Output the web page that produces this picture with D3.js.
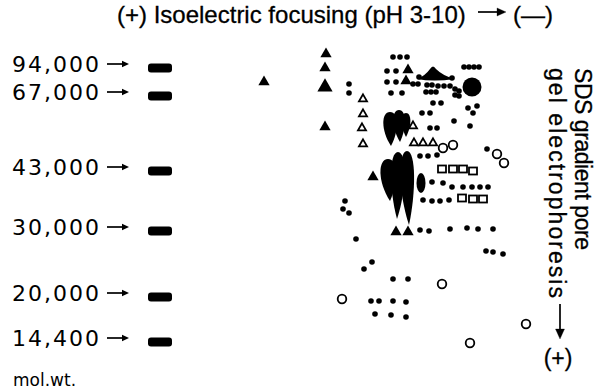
<!DOCTYPE html>
<html>
<head>
<meta charset="utf-8">
<script src="https://cdn.jsdelivr.net/npm/d3@7"></script>
<style>
  body { margin: 0; background: #fff; }
  svg { display: block; }
</style>
</head>
<body>
<svg id="gel" width="596" height="391"></svg>
<script>
// marker proteins in the SDS lane, migration in gel units
const markerLabels = ["94,000", "67,000", "43,000", "30,000", "20,000", "14,400"];
const markerDist = [28, 56, 131, 191, 257, 302];

// spots as [focusing distance, SDS migration], gel units
const dotSpots = [
  [153,17],[160,17],[167,17],
  [147,31],[156,31],[147,42],[156,42],[151,53],[162,53],
  [109,44],[109,53],
  [173,44],[178,44],[187,45],[192,45],[198,46],[204,46],[210,46],
  [186,52],[191,52],[196,52],
  [215,49],[219,51],[215,55],[219,56],
  [193,63],[201,63],[182,73],[190,73],[190,88],[197,88],
  [224,27],[229,27],[234,27],[239,27],
  [228,68],[237,66],[233,73],[214,81],[230,86],
  [180,116],[188,116],[197,115],[247,109],
  [192,142],[203,143],[212,147],[223,147],[232,147],[240,147],[248,147],
  [183,160],[192,161],[200,161],[209,160],
  [180,190],[189,191],[210,189],[227,188],[238,189],[253,189],
  [246,211],[253,212],[263,214],
  [105,161],[103,169],[109,173],[116,199],
  [132,222],[124,229],[153,239],[168,239],
  [131,261],[139,261],[153,261],[166,262],
  [135,274],[151,275],[166,277],
  [179,37],[212,38]
];
const openCircleSpots = [[203,108],[213,105],[257,114],[264,123],[202,244],[102,259],[286,284],[230,303]];
const openTriangleSpots = [[123,59],[123,74],[122,88],[123,104],[173,86],[174,103],[183,103],[193,103]];
const triangleSpots = [[24,42],[86,14],[85,28],[85,87],[168,30],[166,41],[133,137],[156,192],[168,192]];
const bigTriangleSpots = [[85,47]];
const openSquareSpots = [[202,129],[213,129],[223,129],[233,131],[222,158],[233,159],[243,159]];
const bigSpots = [[232,47]];
const smallStreaks = [[181,143]];
// hat shaped cluster: [left, right, base, peak x, peak y]
const hatSpots = [[177,215,39,193,26]];
// streaked spots: [centre x, top, tip x, tip y, width]
const streakSpots = [
  [150,72,151,106,14],[159,70,160,102,12],[166,73,166,97,9],
  [148,119,150,161,16],[158,112,157,179,14],[167,111,169,185,14]
];

const svg = d3.select("#gel");
const x = d3.scaleLinear().domain([0, 300]).range([240, 540]);
const y = d3.scaleLinear().domain([0, 320]).range([40, 360]);

function arrow(g, x1, y1, x2, y2, head) {
  const a = Math.atan2(y2 - y1, x2 - x1);
  const bx = x2 - head * Math.cos(a), by = y2 - head * Math.sin(a);
  const w = head * 0.45;
  g.append("line")
    .attr("x1", x1).attr("y1", y1).attr("x2", bx).attr("y2", by)
    .attr("stroke", "#000").attr("stroke-width", 1.7);
  g.append("path")
    .attr("d", `M${x2},${y2}L${bx - w * Math.sin(a)},${by + w * Math.cos(a)}L${bx + w * Math.sin(a)},${by - w * Math.cos(a)}Z`)
    .attr("fill", "#000");
}

// title
const title = svg.append("g")
  .attr("font-family", "Liberation Sans, Arial, sans-serif").attr("font-size", 24)
  .attr("stroke", "#000").attr("stroke-width", 0.3);
title.append("text").attr("x", 117).attr("y", 23).text("(+) Isoelectric focusing (pH 3-10)");
arrow(title, 478, 12, 506, 12, 9);
title.append("text").attr("x", 513).attr("y", 23).text("(—)");

// marker lane
const markers = svg.append("g");
markers.selectAll("rect")
  .data(markerDist)
  .join("rect")
  .attr("x", 148).attr("y", d => y(d) - 4.5)
  .attr("width", 24).attr("height", 9).attr("rx", 3)
  .attr("fill", "#000");

markers.selectAll("text")
  .data(markerLabels)
  .join("text")
  .attr("x", 101).attr("y", (d, i) => y(markerDist[i]) + 4)
  .attr("text-anchor", "end")
  .attr("font-family", "DejaVu Sans, sans-serif")
  .attr("font-size", 22)
  .attr("letter-spacing", 2)
  .text(d => d);

markerDist.forEach(d => arrow(markers, 107, y(d) - 4, 129, y(d) - 4, 7));

svg.append("text")
  .attr("x", 13).attr("y", 386)
  .attr("font-family", "DejaVu Sans, sans-serif")
  .attr("font-size", 17)
  .text("mol.wt.");

// right hand axis title
const side = svg.append("g")
  .attr("font-family", "Liberation Sans, Arial, sans-serif").attr("font-size", 23)
  .attr("stroke", "#000").attr("stroke-width", 0.3);
side.append("text").attr("transform", "translate(575,68) rotate(90)")
  .attr("textLength", 182).attr("lengthAdjust", "spacing").text("SDS gradient pore");
side.append("text").attr("transform", "translate(549,68) rotate(90)")
  .attr("textLength", 230).attr("lengthAdjust", "spacing").text("gel electrophoresis");
arrow(side, 560, 304, 560, 339, 10);
side.append("text").attr("x", 558).attr("y", 366).attr("text-anchor", "middle").text("(+)");

// spots
const spots = svg.append("g");

spots.selectAll(".streak")
  .data(streakSpots)
  .join("path")
  .attr("class", "streak")
  .attr("d", d => {
    const cx = x(d[0]), top = y(d[1]), tx = x(d[2]), ty = y(d[3]);
    const hw = (x(d[0] + d[4] / 2) - x(d[0] - d[4] / 2)) / 2 * 1.3;
    const k = ty - (ty - top) * 0.45;
    return `M${tx},${ty}C${cx - hw},${k} ${cx - hw},${top} ${cx},${top}C${cx + hw},${top} ${cx + hw},${k} ${tx},${ty}Z`;
  })
  .attr("fill", "#000");

spots.selectAll(".hat")
  .data(hatSpots)
  .join("path")
  .attr("class", "hat")
  .attr("d", d => {
    const l = x(d[0]), r = x(d[1]), b = y(d[2]), px = x(d[3]), py = y(d[4]);
    return `M${l},${b}Q${l + 8},${b - 3} ${px - 3},${py + 3}Q${px},${py - 2} ${px + 3},${py + 3}Q${r - 12},${b - 3} ${r},${b}Q${px},${b + 3} ${l},${b}Z`;
  })
  .attr("fill", "#000");

spots.selectAll(".small-streak")
  .data(smallStreaks)
  .join("ellipse")
  .attr("class", "small-streak")
  .attr("cx", d => x(d[0])).attr("cy", d => y(d[1]))
  .attr("rx", 4.5).attr("ry", 10)
  .attr("fill", "#000");

spots.selectAll(".dot")
  .data(dotSpots)
  .join("circle")
  .attr("class", "dot")
  .attr("cx", d => x(d[0])).attr("cy", d => y(d[1]))
  .attr("r", 2.8)
  .attr("fill", "#000");

spots.selectAll(".big")
  .data(bigSpots)
  .join("circle")
  .attr("class", "big")
  .attr("cx", d => x(d[0])).attr("cy", d => y(d[1]))
  .attr("r", 9.5)
  .attr("fill", "#000");

spots.selectAll(".ocircle")
  .data(openCircleSpots)
  .join("circle")
  .attr("class", "ocircle")
  .attr("cx", d => x(d[0])).attr("cy", d => y(d[1]))
  .attr("r", 4.3)
  .attr("fill", "none").attr("stroke", "#000").attr("stroke-width", 1.8);

const tri = d3.symbol().type(d3.symbolTriangle);

spots.selectAll(".tri")
  .data(triangleSpots)
  .join("path")
  .attr("class", "tri")
  .attr("transform", d => `translate(${x(d[0])},${y(d[1])})`)
  .attr("d", tri.size(55)())
  .attr("fill", "#000");

spots.selectAll(".bigtri")
  .data(bigTriangleSpots)
  .join("path")
  .attr("class", "bigtri")
  .attr("transform", d => `translate(${x(d[0])},${y(d[1])})`)
  .attr("d", tri.size(100)())
  .attr("fill", "#000");

spots.selectAll(".otri")
  .data(openTriangleSpots)
  .join("path")
  .attr("class", "otri")
  .attr("transform", d => `translate(${x(d[0])},${y(d[1])})`)
  .attr("d", tri.size(28)())
  .attr("fill", "none").attr("stroke", "#000").attr("stroke-width", 1.8);

spots.selectAll(".osq")
  .data(openSquareSpots)
  .join("rect")
  .attr("class", "osq")
  .attr("x", d => x(d[0]) - 4).attr("y", d => y(d[1]) - 3.5)
  .attr("width", 8).attr("height", 7)
  .attr("fill", "none").attr("stroke", "#000").attr("stroke-width", 1.8);
</script>
</body>
</html>
